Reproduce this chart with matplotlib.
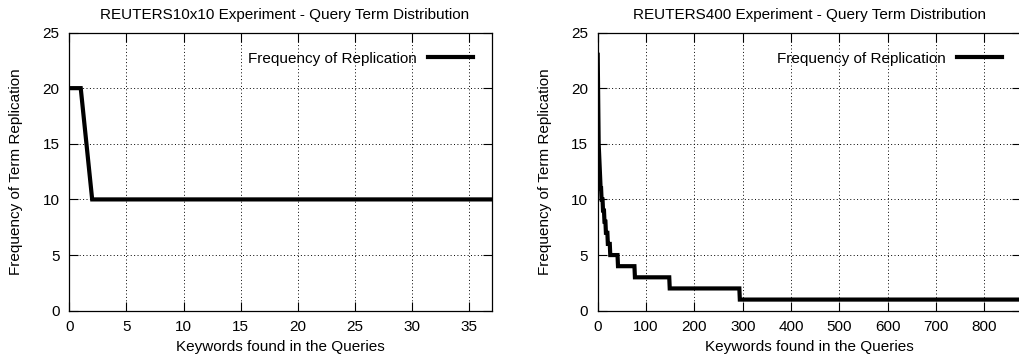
import numpy as np
import matplotlib
matplotlib.use("Agg")
import matplotlib.pyplot as plt

plt.rcParams['font.family'] = ['Liberation Sans', 'DejaVu Sans']
plt.rcParams['font.size'] = 11

# Query term distributions: replication frequency per keyword rank,
# stored as (frequency level, number of keywords at that level).
r10x10_freq = [20, 10]
r10x10_count = [2, 36]

r400_freq = [23, 19, 15, 14, 13, 12, 11, 10, 9, 8, 7, 6, 5, 4, 3, 2, 1]
r400_count = [1, 1, 1, 1, 1, 1, 2, 3, 3, 3, 4, 5, 16, 35, 72, 145, 580]

panels = [
    dict(title="REUTERS10x10 Experiment - Query Term Distribution",
         freq=r10x10_freq, count=r10x10_count,
         xlim=(0, 37), xticks=[0, 5, 10, 15, 20, 25, 30, 35],
         left=69.3, title_x=0.51),
    dict(title="REUTERS400 Experiment - Query Term Distribution",
         freq=r400_freq, count=r400_count,
         xlim=(0, 875), xticks=[0, 100, 200, 300, 400, 500, 600, 700, 800],
         left=597.7, title_x=0.5),
]
yticks = [0, 5, 10, 15, 20, 25]

W, H = 1020, 362
fig = plt.figure(figsize=(W / 100, H / 100), dpi=100)

for p in panels:
    ax_w = 423.0
    top, bottom = 32.5, 310.7
    ax = fig.add_axes([p['left'] / W, (H - bottom) / H, ax_w / W, (bottom - top) / H])
    y = np.repeat(p['freq'], p['count'])
    x = np.arange(len(y))
    ax.plot(x, y, color='black', lw=3, solid_joinstyle='miter',
            label="Frequency of Replication", zorder=3)
    ax.set_xlim(*p['xlim'])
    ax.set_ylim(0, 25)
    ax.set_xticks(p['xticks'])
    ax.set_yticks(yticks)
    ax.grid(True, color='black', linestyle=(0, (1, 2.5)), lw=0.7)
    ax.tick_params(direction='in', length=6.5, width=0.8, top=True, right=True,
                   pad=7, labelsize=11)
    for s in ax.spines.values():
        s.set_linewidth(0.9)
    ax.set_title(p['title'], fontsize=11, pad=10, x=p['title_x'])
    ax.set_xlabel("Keywords found in the Queries", labelpad=4)
    ax.set_ylabel("Frequency of Term Replication", labelpad=14)
    ax.legend(loc='upper right', bbox_to_anchor=(0.955, 0.931), frameon=False,
              markerfirst=False, handlelength=2.95, handletextpad=0.74,
              borderpad=0, borderaxespad=0, fontsize=11)

fig.savefig("out.png", dpi=100)
